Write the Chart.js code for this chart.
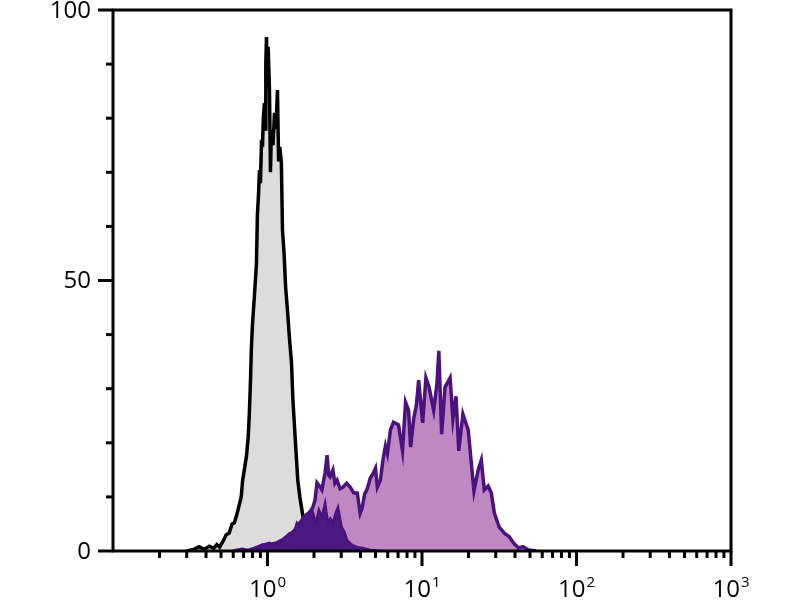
<!DOCTYPE html>
<html>
<head>
<meta charset="utf-8">
<script src="https://cdn.jsdelivr.net/npm/chart.js@4"></script>
<style>
  html, body { margin: 0; padding: 0; background: #fff; }
  #wrap { width: 800px; height: 600px; position: relative; }
</style>
</head>
<body>
<div id="wrap"><canvas id="histChart"></canvas></div>
<script>
// Control (grey) histogram: fluorescence value vs count
const grayX = [0.30, 0.334, 0.36, 0.39, 0.42, 0.45, 0.47, 0.49, 0.52, 0.54, 0.565, 0.59, 0.61, 0.63, 0.656, 0.676, 0.69, 0.708, 0.73, 0.75, 0.763, 0.775, 0.787, 0.80, 0.822, 0.835, 0.848, 0.86, 0.875, 0.887, 0.90, 0.915, 0.928, 0.94, 0.956, 0.965, 0.975, 0.985, 0.995, 1.01, 1.03, 1.045, 1.06, 1.085, 1.11, 1.135, 1.16, 1.18, 1.20, 1.23, 1.25, 1.28, 1.31, 1.35, 1.39, 1.43, 1.46, 1.50, 1.54, 1.57, 1.62, 1.67, 1.74, 1.80, 1.88, 1.95, 2.05, 2.2];
const grayY = [0, 0.3, 0.8, 0.3, 0.9, 0.5, 1.2, 0.7, 2.0, 3.0, 3.3, 5.0, 5.2, 6.5, 8.5, 10, 13, 15, 17.4, 21, 25.5, 31, 37.7, 42, 47, 50, 53, 62, 66, 70.4, 68, 76, 74.7, 80, 82.8, 78, 90, 95, 88, 93.2, 85, 70, 77.8, 75, 81, 78, 85.2, 72, 74.7, 71.7, 59.3, 55, 48.8, 44, 39, 34.8, 28, 22.4, 17, 13.1, 10, 7.6, 4.4, 2.5, 1.2, 0.5, 0.2, 0];

// Stained (light purple) histogram
const purpleX = [0.60, 0.687, 0.75, 0.82, 0.928, 1.0, 1.07, 1.145, 1.24, 1.33, 1.456, 1.54, 1.62, 1.74, 1.88, 1.96, 2.03, 2.09, 2.17, 2.25, 2.36, 2.43, 2.49, 2.54, 2.65, 2.73, 2.82, 2.95, 3.08, 3.25, 3.43, 3.62, 3.81, 3.98, 4.10, 4.25, 4.42, 4.63, 4.84, 5.0, 5.14, 5.38, 5.6, 5.80, 5.97, 6.25, 6.54, 7.05, 7.25, 7.48, 7.83, 8.19, 8.44, 8.83, 9.2, 9.51, 10.1, 10.6, 11.1, 11.9, 12.5, 12.85, 13.4, 14.1, 15.2, 15.85, 16.6, 17.3, 18.4, 19.9, 20.8, 21.7, 23.1, 24.2, 25.3, 26.8, 28.1, 29.4, 31.6, 34.1, 36.8, 39.1, 42.1, 45, 49, 55];
const purpleY = [0, 0.3, 0.1, 0.5, 1.1, 0.8, 1.3, 1.5, 2.0, 2.6, 3.5, 4.2, 5.2, 6.3, 7.2, 8.0, 9.4, 12.6, 12.0, 11.3, 14.5, 17.7, 14, 13.7, 15, 12.5, 13.1, 11.5, 11.8, 12.5, 11.8, 10.7, 10.7, 7.0, 8.0, 10.5, 11.5, 13.5, 14.4, 15.3, 11.8, 13.1, 17, 19.4, 18, 22.4, 23.8, 23.3, 21, 18.5, 27.5, 26, 19.2, 24.4, 27, 31.6, 23.7, 32, 30.3, 26, 31, 37.0, 21.6, 30.3, 32.0, 24.4, 28.6, 18.5, 25.3, 22.4, 16.6, 11.1, 15, 16.8, 11.3, 12, 10.7, 7.0, 4.4, 3.3, 2.6, 1.5, 0.55, 0.8, 0.2, 0];

// Second (dark purple) histogram
const darkX = [0.80, 0.88, 0.914, 1.03, 1.1, 1.20, 1.3, 1.39, 1.47, 1.55, 1.62, 1.69, 1.82, 1.94, 2.06, 2.15, 2.25, 2.36, 2.46, 2.55, 2.65, 2.76, 2.86, 3.02, 3.15, 3.27, 3.5, 3.81, 4.2, 4.63, 5.38];
const darkY = [0, 0.5, 1.1, 1.5, 1.0, 1.5, 2.5, 3.3, 3.0, 5.2, 4.5, 6.3, 7.0, 7.6, 5.2, 7.6, 6.3, 8.9, 5.2, 6.0, 5.2, 7.0, 8.1, 4.4, 3.5, 2.0, 1.2, 0.7, 0.5, 0.2, 0];

// Axis ticks
const xMajorTicks = [1, 10, 100, 1000];
const xTickExponents = ['0', '1', '2', '3'];
const xMinorTicks = [0.2, 0.3, 0.4, 0.5, 0.6, 0.7, 0.8, 0.9, 2, 3, 4, 5, 6, 7, 8, 9, 20, 30, 40, 50, 60, 70, 80, 90, 200, 300, 400, 500, 600, 700, 800, 900];
const yMajorTicks = [0, 50, 100];
const yMinorTicks = [10, 20, 30, 40, 60, 70, 80, 90];

function toPoints(xs, ys) {
  return xs.map((v, i) => ({ x: v, y: ys[i] }));
}

// frame, ticks and labels drawn from the chart's scales
const axesPlugin = {
  id: 'flowAxes',
  afterDraw(chart) {
    const { ctx, chartArea: a, scales } = chart;
    const xs = scales.x, ys = scales.y;
    ctx.save();
    ctx.strokeStyle = '#000';
    ctx.lineWidth = 3;
    ctx.strokeRect(a.left, a.top, a.right - a.left, a.bottom - a.top);

    function seg(x1, y1, x2, y2) {
      ctx.beginPath();
      ctx.moveTo(x1, y1);
      ctx.lineTo(x2, y2);
      ctx.stroke();
    }
    yMajorTicks.forEach(v => { const p = ys.getPixelForValue(v); seg(a.left - 15, p, a.left, p); });
    yMinorTicks.forEach(v => { const p = ys.getPixelForValue(v); seg(a.left - 7, p, a.left, p); });
    xMajorTicks.forEach(v => { const p = xs.getPixelForValue(v); seg(p, a.bottom, p, a.bottom + 15); });
    xMinorTicks.forEach(v => { const p = xs.getPixelForValue(v); seg(p, a.bottom, p, a.bottom + 7); });

    const big = '24px "Open Sans", "DejaVu Sans", sans-serif';
    const small = '15px "Open Sans", "DejaVu Sans", sans-serif';
    ctx.fillStyle = '#000';
    ctx.font = big;
    ctx.textAlign = 'right';
    ctx.textBaseline = 'middle';
    yMajorTicks.forEach(v => {
      ctx.fillText(String(v), a.left - 22, ys.getPixelForValue(v) + 1);
    });

    ctx.textAlign = 'left';
    ctx.textBaseline = 'alphabetic';
    xMajorTicks.forEach((v, i) => {
      const p = xs.getPixelForValue(v);
      ctx.font = big;
      const w1 = ctx.measureText('10').width;
      ctx.font = small;
      const w2 = ctx.measureText(xTickExponents[i]).width;
      const left = p - (w1 + w2 + 1) / 2;
      ctx.font = big;
      ctx.fillText('10', left, a.bottom + 46);
      ctx.font = small;
      ctx.fillText(xTickExponents[i], left + w1 + 1, a.bottom + 36);
    });
    ctx.restore();
  }
};

const ctx = document.getElementById('histChart').getContext('2d');
const histChart = new Chart(ctx, {
  type: 'line',
  data: {
    datasets: [{
      label: 'Control',
      data: toPoints(grayX, grayY),
      borderColor: '#000000',
      backgroundColor: '#dcdcdc',
      borderWidth: 3.5,
      fill: 'origin',
      pointRadius: 0,
      order: 3
    }, {
      label: 'Stained',
      data: toPoints(purpleX, purpleY),
      borderColor: '#4a127c',
      backgroundColor: '#bf88c2',
      borderWidth: 3.5,
      fill: 'origin',
      pointRadius: 0,
      order: 2
    }, {
      label: 'Second',
      data: toPoints(darkX, darkY),
      borderColor: '#4a127c',
      backgroundColor: '#4b1a80',
      borderWidth: 2.5,
      fill: 'origin',
      pointRadius: 0,
      order: 1
    }]
  },
  options: {
    responsive: true,
    maintainAspectRatio: false,
    animation: false,
    layout: { padding: { left: 113, top: 10, right: 69, bottom: 49 } },
    plugins: {
      legend: { display: false },
      tooltip: { enabled: false }
    },
    scales: {
      x: { type: 'logarithmic', min: 0.1, max: 1000, display: false },
      y: { type: 'linear', min: 0, max: 100, display: false }
    }
  },
  plugins: [axesPlugin]
});
</script>
</body>
</html>
